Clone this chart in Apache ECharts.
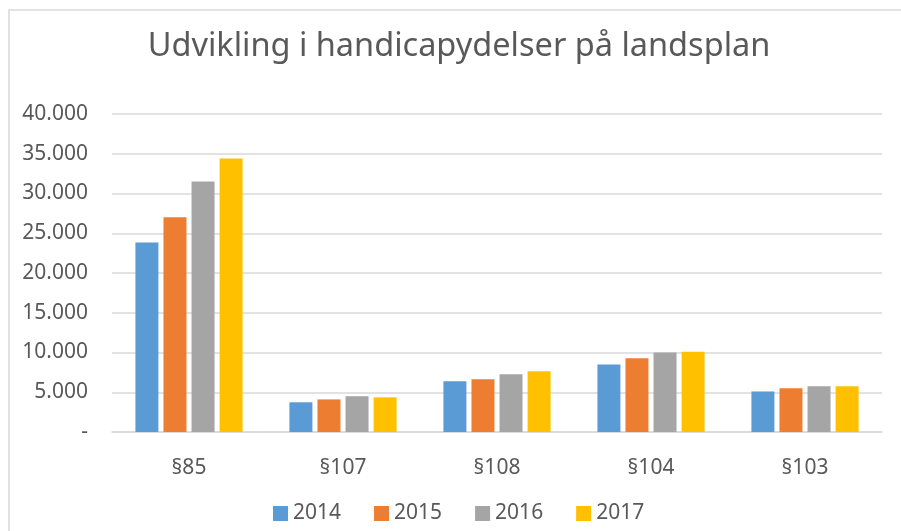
<!DOCTYPE html>
<html>
<head>
<meta charset="utf-8">
<script src="https://cdn.jsdelivr.net/npm/echarts@6/dist/echarts.min.js"></script>
<style>html,body{margin:0;padding:0;background:#fff}#c{width:901px;height:531px}</style>
</head>
<body>
<div id="c"></div>
<script>
const titleText = 'Udvikling i handicapydelser på landsplan';
const categories = ['§85', '§107', '§108', '§104', '§103'];
const seriesNames = ['2014', '2015', '2016', '2017'];
const v2014 = [23850, 3740, 6380, 8500, 5100];
const v2015 = [27000, 4100, 6630, 9270, 5500];
const v2016 = [31500, 4500, 7260, 10000, 5760];
const v2017 = [34400, 4360, 7630, 10100, 5760];
const colors = ['#5b9bd5', '#ed7d31', '#a5a5a5', '#ffc000'];

const values = [v2014, v2015, v2016, v2017];
const font = 'Noto Sans';
const chart = echarts.init(document.getElementById('c'), null, {renderer: 'canvas'});
chart.setOption({
  animation: false,
  backgroundColor: '#fff',
  graphic: [{
    type: 'rect', shape: {x: 9, y: 10, width: 1000, height: 1000},
    style: {fill: 'none', stroke: '#d9d9d9', lineWidth: 1.5}, silent: true, z: -1
  }],
  title: {
    text: titleText, left: 454, top: 25, textAlign: 'center',
    textStyle: {fontFamily: font, fontSize: 32.5, fontWeight: 'normal', color: '#595959'}
  },
  grid: {left: 112, right: 19, top: 114, bottom: 99, containLabel: false},
  legend: {
    data: seriesNames, left: 268, top: 498, itemWidth: 15, itemHeight: 15, itemGap: 33,
    icon: 'rect',
    textStyle: {fontFamily: font, fontSize: 21, color: '#595959', padding: [0, 0, 0, 0]}
  },
  xAxis: {
    type: 'category', data: categories,
    axisLine: {lineStyle: {color: '#d9d9d9', width: 1.5}},
    axisTick: {show: false},
    axisLabel: {fontFamily: font, fontSize: 21, color: '#595959', margin: 26}
  },
  yAxis: {
    type: 'value', min: 0, max: 40000, interval: 5000,
    axisLine: {show: false}, axisTick: {show: false},
    splitLine: {lineStyle: {color: '#d9d9d9', width: 1.5}},
    axisLabel: {
      fontFamily: font, fontSize: 21, color: '#595959', margin: 24,
      formatter: v => v === 0 ? '-' : String(v).replace(/\B(?=(\d{3})+(?!\d))/g, '.')
    }
  },
  series: seriesNames.map((n, i) => ({
    name: n, type: 'bar', data: values[i], barWidth: 23, barGap: '22%',
    itemStyle: {color: colors[i]}
  }))
});
</script>
</body>
</html>
